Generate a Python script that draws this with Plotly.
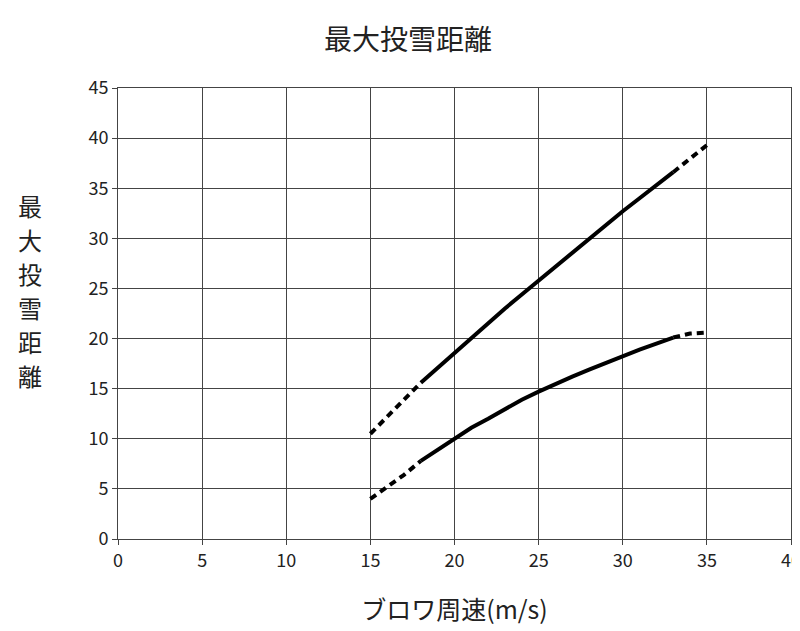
import plotly.graph_objects as go

speed = [15, 16, 17, 18, 19, 20, 21, 22, 23, 24, 25, 26, 27, 28, 29, 30, 31, 32, 33, 34, 35]
upper = [10.5, 12.2, 14.0, 15.6, 17.1, 18.5, 20.0, 21.5, 23.0, 24.4, 25.8, 27.2, 28.6, 30.0, 31.4, 32.7, 34.0, 35.3, 36.6, 38.0, 39.3]
lower = [4.0, 5.2, 6.4, 7.8, 8.9, 10.0, 11.1, 12.0, 13.0, 13.9, 14.7, 15.5, 16.2, 16.9, 17.6, 18.3, 18.9, 19.5, 20.1, 20.5, 20.6]
ylabel_chars = ["最", "大", "投", "雪", "距", "離"]

font = "Noto Sans CJK JP"
fig = go.Figure()
# dashed at both ends, solid in the middle
for ys in (upper, lower):
    for a, b, dash in ((0, 4, "7px,5px"), (3, 19, "solid"), (18, 21, "7px,5px")):
        fig.add_trace(go.Scatter(x=speed[a:b], y=ys[a:b], mode="lines",
                                 line=dict(color="black", width=4, dash=dash),
                                 showlegend=False))

axis = dict(showgrid=True, gridcolor="#444", gridwidth=1, showline=True, linecolor="#444",
            mirror=True, ticks="outside", ticklen=5, tickcolor="#444", zeroline=False,
            automargin=False, tickfont=dict(size=18, color="#222", family=font))
annotations = [dict(text=c, x=22, y=197 + 34 * i, xref="paper", yref="paper", showarrow=False,
                    font=dict(size=24, color="#222", family=font)) for i, c in enumerate(ylabel_chars)]
annotations.append(dict(text="(m)", x=22, y=410, showarrow=False, font=dict(size=13, color="#222", family=font)))

fig.update_layout(
    width=800, height=631, plot_bgcolor="white", paper_bgcolor="white",
    margin=dict(l=110, r=17, t=80, b=100),
    title=dict(text="最大投雪距離", x=0.5, y=0.965, xanchor="center",
               font=dict(size=28, color="#222", family=font)),
    xaxis=dict(axis, range=[0, 40], dtick=5,
               title=dict(text="ブロワ周速(m/s)", font=dict(size=25, color="#222", family=font), standoff=30)),
    yaxis=dict(axis, range=[0, 45], dtick=5),
    annotations=annotations,
)
# convert pixel positions of the y label to paper coordinates
pw, ph = 800 - 110 - 17, 631 - 80 - 100
for ann in fig.layout.annotations:
    ann.update(x=(ann.x - 110) / pw, y=(631 - 100 - ann.y) / ph, xanchor="center", yanchor="middle")
fig.write_html("out.html")
